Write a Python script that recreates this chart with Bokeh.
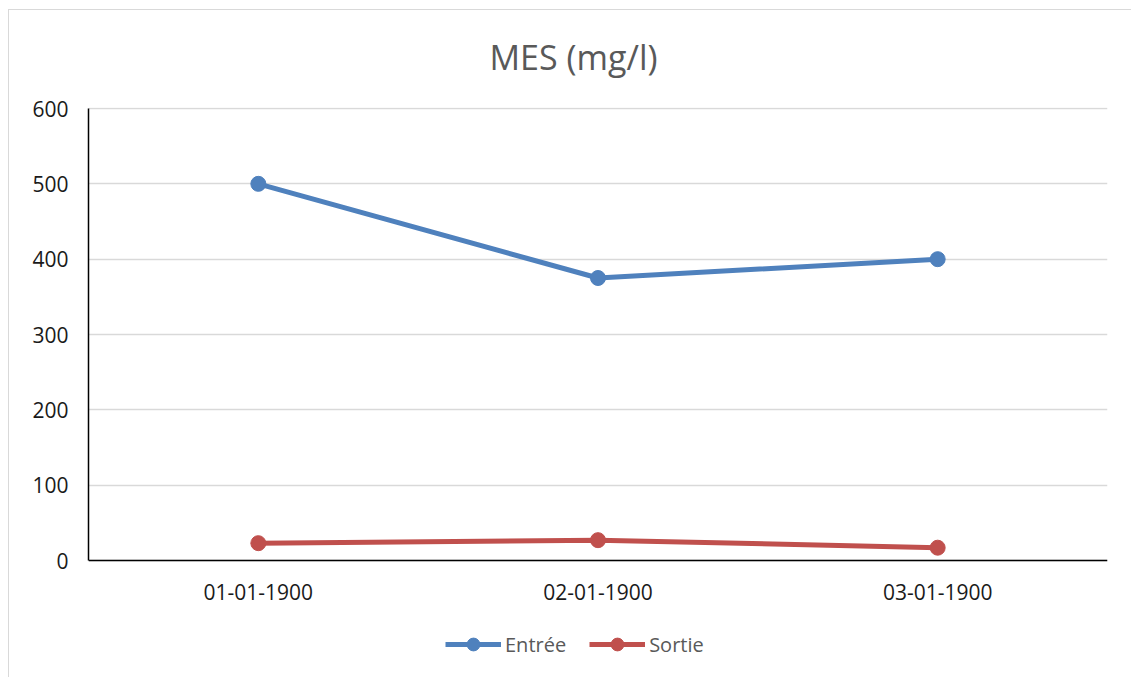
from bokeh.plotting import figure
from bokeh.models import FactorRange, Range1d, Legend, LegendItem, FixedTicker, Title, InlineStyleSheet
from bokeh.embed import file_html
from bokeh.resources import INLINE

dates = ["01-01-1900", "02-01-1900", "03-01-1900"]
entree = [500, 375, 400]
sortie = [23, 27, 17]
y_ticks = [0, 100, 200, 300, 400, 500, 600]
title_text = "MES (mg/l)"

FONT = "Open Sans"

css = InlineStyleSheet(css=""":host::after { content: ''; position: absolute; left: 8px; top: 9px;
  right: 0px; bottom: 0px; border-left: 1.5px solid #d9d9d9; border-top: 1.5px solid #d9d9d9;
  pointer-events: none; }""")

# frame spans from canvas y=107 to y=677; value 0 sits at y=560, 600 at y=108
p = figure(frame_width=1019, frame_height=570, x_range=FactorRange(*dates),
           y_range=Range1d(-155.3, 601.33),
           output_backend="svg", toolbar_location=None,
           min_border_left=88, min_border_right=24, min_border_top=107, min_border_bottom=0,
           stylesheets=[css])
p.outline_line_color = None
p.background_fill_color = "white"
p.border_fill_color = "white"

p.title = Title(text=title_text, align="left", offset=401, text_font=FONT, text_font_size="34px",
                text_color="#595959", text_font_style="normal", standoff=55)

p.xgrid.visible = False
p.ygrid.grid_line_color = "#d9d9d9"
p.ygrid.grid_line_width = 1.5
p.ygrid.ticker = FixedTicker(ticks=y_ticks)

p.yaxis.ticker = FixedTicker(ticks=y_ticks)
p.yaxis.bounds = (0, 600)
p.xaxis.fixed_location = 0
for ax in (p.xaxis, p.yaxis):
    ax.major_tick_line_color = None
    ax.minor_tick_line_color = None
    ax.axis_line_color = "black"
    ax.axis_line_width = 1.5
    ax.major_label_text_font = FONT
    ax.major_label_text_font_size = "21px"
    ax.major_label_text_color = "#1a1a1a"
p.yaxis.major_label_standoff = 14
p.xaxis.major_label_standoff = 17

blue = "#4f81bd"
red = "#c0504d"
l1 = p.line(dates, entree, line_color=blue, line_width=5)
c1 = p.scatter(dates, entree, size=15, fill_color=blue, line_color=blue)
l2 = p.line(dates, sortie, line_color=red, line_width=5)
c2 = p.scatter(dates, sortie, size=15, fill_color=red, line_color=red)

legend = Legend(items=[LegendItem(label="Entrée", renderers=[l1, c1]),
                       LegendItem(label="Sortie", renderers=[l2, c2])],
                orientation="horizontal", location=(357, 17),
                glyph_width=56, glyph_height=32, label_standoff=4, spacing=23,
                padding=0, margin=0, border_line_color=None, background_fill_alpha=0,
                label_text_font=FONT, label_text_font_size="20px", label_text_color="#595959")
p.add_layout(legend)

html = file_html(p, INLINE)
html = html.replace("<head>", "<head><style>html,body{overflow:hidden;margin:0}</style>", 1)
open("out.html", "w").write(html)
